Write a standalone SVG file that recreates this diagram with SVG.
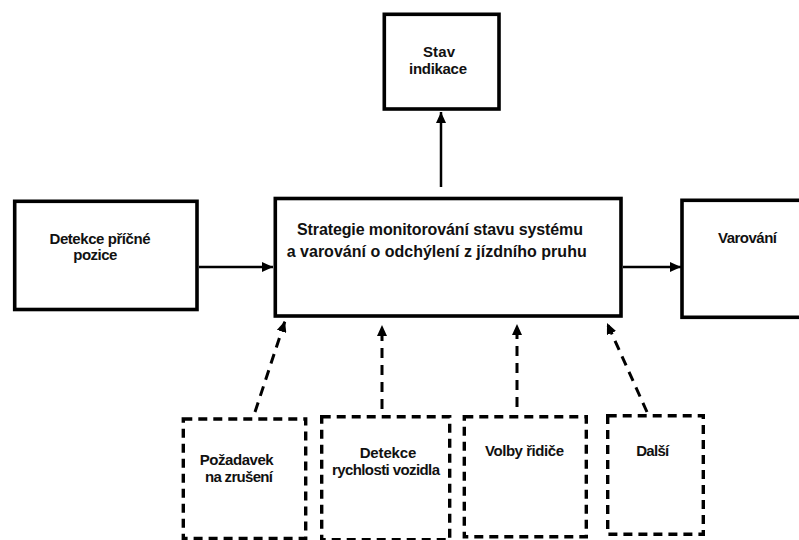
<svg xmlns="http://www.w3.org/2000/svg" width="799" height="540" viewBox="0 0 799 540">
<style>
.box{fill:#fff;stroke:#000;stroke-width:3.6}
.dbox{fill:#fff;stroke:#000;stroke-width:3.4;stroke-dasharray:9 6}
.t{font-family:"Liberation Sans",Arial,sans-serif;font-weight:bold;font-size:15px;fill:#111;text-anchor:middle}
.tm{font-size:16px}
.ln{fill:none;stroke:#000;stroke-width:2.5}
.dl{fill:none;stroke:#000;stroke-width:3;stroke-dasharray:10 7}
</style>
<defs>
<marker id="ah" markerUnits="userSpaceOnUse" markerWidth="11" markerHeight="10" viewBox="0 0 11 10" refX="11" refY="5" orient="auto">
<path d="M0,0 L11,5 L0,10 z" fill="#000" stroke="none"/>
</marker>
</defs>
<rect width="799" height="540" fill="#fff"/>
<g id="connectors">
<path class="ln" d="M441,187 L441,112" marker-end="url(#ah)"/>
<path class="ln" d="M199,267 L273,267" marker-end="url(#ah)"/>
<path class="ln" d="M623,267 L681,267" marker-end="url(#ah)"/>
<path class="dl" d="M255,412 L285,321" marker-end="url(#ah)"/>
<path class="dl" d="M382,409 L382,325" marker-end="url(#ah)"/>
<path class="dl" d="M517,407 L517,324" marker-end="url(#ah)"/>
<path class="dl" d="M647,412 L607,323" marker-end="url(#ah)"/>
</g>
<g id="stav">
<rect class="box" x="384.3" y="14.3" width="114.7" height="94.7"/>
<text class="t" x="439" y="57" textLength="32">Stav</text>
<text class="t" x="438" y="73.5" textLength="58">indikace</text>
</g>
<g id="detekce-pozice">
<rect class="box" x="14.7" y="201.3" width="182.3" height="108.2"/>
<text class="t" x="100" y="244" textLength="101">Detekce příčné</text>
<text class="t" x="95.3" y="260" textLength="44">pozice</text>
</g>
<g id="strategie">
<rect class="box" x="275.3" y="198.5" width="345.7" height="117.5"/>
<text class="t tm" x="440" y="235" textLength="286">Strategie monitorování stavu systému</text>
<text class="t tm" x="436.7" y="256.7" textLength="300">a varování o odchýlení z jízdního pruhu</text>
</g>
<g id="varovani">
<rect class="box" x="682" y="200.3" width="130" height="117"/>
<text class="t" x="747.5" y="243" textLength="59">Varování</text>
</g>
<g id="pozadavek">
<rect class="dbox" x="183.3" y="419" width="122.4" height="119.5"/>
<text class="t" x="236.7" y="464.5" textLength="74">Požadavek</text>
<text class="t" x="239" y="481.7" textLength="68">na zrušení</text>
</g>
<g id="rychlost">
<rect class="dbox" x="321.7" y="416.7" width="128" height="123"/>
<text class="t" x="388" y="457.5" textLength="56.7">Detekce</text>
<text class="t" x="386" y="474.5" textLength="108">rychlosti vozidla</text>
</g>
<g id="volby">
<rect class="dbox" x="464.3" y="416.7" width="122" height="120"/>
<text class="t" x="524.5" y="456" textLength="79">Volby řidiče</text>
</g>
<g id="dalsi">
<rect class="dbox" x="607.7" y="415.7" width="95.6" height="118.5"/>
<text class="t" x="652.7" y="455.5" textLength="33">Další</text>
</g>
</svg>
